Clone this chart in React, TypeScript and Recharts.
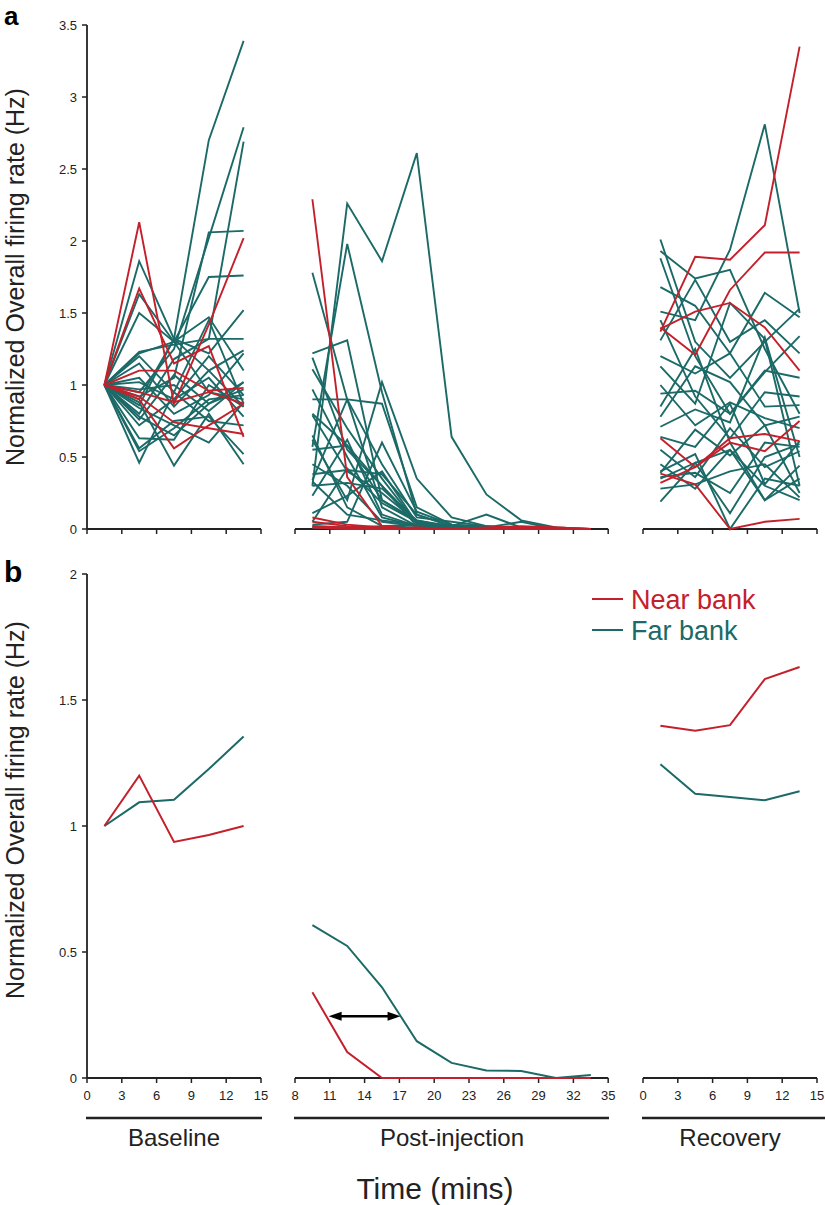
import React from 'react';
import { LineChart, Line, XAxis, YAxis, ReferenceLine } from 'recharts';

const RED = '#c4202c';
const TEAL = '#1b6a67';
const INK = '#222222';
const FONT = "'Liberation Sans', Arial, Helvetica, sans-serif";

// ---------- time points (mins) ----------
const baselineTimes = [1.5, 4.5, 7.5, 10.5, 13.5];
const postTimes = [9.5, 12.5, 15.5, 18.5, 21.5, 24.5, 27.5, 30.5, 33.5];
const recoveryTimes = [1.5, 4.5, 7.5, 10.5, 13.5];

// ---------- axis ticks ----------
const baselineTicks = [0, 3, 6, 9, 12, 15];
const postTicks = [8, 11, 14, 17, 20, 23, 26, 29, 32, 35];
const recoveryTicks = [0, 3, 6, 9, 12, 15];
const yTicksA = [0, 0.5, 1, 1.5, 2, 2.5, 3, 3.5];
const yTicksB = [0, 0.5, 1, 1.5, 2];

// ---------- panel a: individual units ----------
const baselineNear = [
  [1, 2.13, 0.87, 1.42, 2.02],
  [1, 1.67, 1.15, 1.27, 0.64],
  [1, 1.1, 1.1, 0.96, 0.98],
  [1, 0.95, 0.88, 0.95, 0.87],
  [1, 0.92, 0.74, 0.7, 0.66],
  [1, 0.9, 0.56, 0.72, 0.87],
];
const baselineFar = [
  [1, 0.86, 1.32, 2.7, 3.39],
  [1, 0.95, 1.25, 2.02, 2.79],
  [1, 0.8, 1.18, 1.32, 2.69],
  [1, 0.92, 1.05, 2.06, 2.07],
  [1, 1.22, 1.3, 1.75, 1.76],
  [1, 1.86, 1.32, 1.22, 1.52],
  [1, 1.63, 1.3, 1.47, 1.1],
  [1, 1.5, 1.3, 0.95, 0.9],
  [1, 1.23, 1.28, 1.32, 1.32],
  [1, 1.2, 0.95, 1.45, 0.87],
  [1, 1.15, 0.85, 1.1, 1.24],
  [1, 1.05, 0.8, 0.93, 1.22],
  [1, 0.97, 1.0, 0.82, 1.02],
  [1, 0.76, 1.07, 0.87, 0.97],
  [1, 0.72, 0.9, 1.05, 0.78],
  [1, 0.63, 0.62, 1.0, 0.85],
  [1, 0.56, 0.75, 0.78, 0.52],
  [1, 0.54, 0.7, 0.9, 0.93],
  [1, 0.46, 0.95, 0.75, 0.72],
  [1, 0.88, 0.44, 0.8, 0.45],
  [1, 0.78, 0.65, 0.87, 1.02],
  [1, 0.9, 1.32, 1.1, 0.85],
  [1, 1.02, 0.9, 1.2, 0.93],
  [1, 0.84, 0.72, 0.6, 0.88],
];
const postNear = [
  [2.29, 0.36, 0.02, 0, 0, 0, 0, 0.01, 0],
  [0.08, 0.03, 0.01, 0, 0, 0, 0, 0, 0],
  [0.05, 0.02, 0, 0.01, 0, 0.01, 0.02, 0.01, 0],
  [0.02, 0.01, 0, 0, 0, 0, 0, 0, 0],
  [0.01, 0, 0, 0, 0, 0, 0.01, 0, 0],
];
const postFar = [
  [0.3, 2.26, 1.86, 2.61, 0.64, 0.24, 0.06, 0.01, 0],
  [0.57, 1.98, 0.95, 0.1, 0.02, 0, 0, 0, 0],
  [1.78, 0.9, 0.15, 0.02, 0, 0, 0, 0, 0],
  [1.22, 1.31, 0.2, 0.05, 0.01, 0, 0, 0, 0],
  [1.19, 0.55, 0.3, 0.02, 0, 0, 0, 0, 0],
  [0.97, 0.5, 0.08, 0.02, 0, 0, 0, 0, 0],
  [0.9, 0.9, 0.87, 0.15, 0.03, 0.02, 0, 0, 0],
  [0.79, 0.4, 0.25, 0.05, 0.01, 0, 0, 0, 0],
  [0.62, 0.2, 1.02, 0.35, 0.08, 0.02, 0, 0, 0],
  [0.55, 0.58, 0.3, 0.05, 0.02, 0.1, 0.01, 0, 0],
  [0.38, 0.41, 0.38, 0.1, 0.02, 0, 0, 0, 0],
  [0.34, 0.9, 0.45, 0.08, 0.05, 0.02, 0, 0, 0],
  [0.3, 0.32, 0.28, 0.06, 0.02, 0, 0, 0, 0],
  [0.23, 0.62, 0.1, 0.02, 0.01, 0, 0, 0, 0],
  [0.11, 0.23, 0.4, 0.04, 0.02, 0.01, 0.05, 0, 0],
  [0.45, 0.3, 0.05, 0.02, 0, 0, 0, 0, 0],
  [0.65, 0.15, 0.02, 0.01, 0, 0, 0, 0, 0],
  [0.05, 0.42, 0.18, 0.05, 0.02, 0, 0, 0, 0],
  [0.03, 0.05, 0.6, 0.12, 0.03, 0.01, 0, 0, 0],
  [0.02, 0.01, 0.02, 0.03, 0.02, 0.01, 0, 0, 0],
  [0.8, 0.58, 0.2, 0.06, 0.01, 0, 0, 0, 0],
  [0.33, 0.1, 0.06, 0.03, 0.01, 0, 0, 0, 0],
  [1.11, 0.7, 0.35, 0.04, 0.01, 0, 0, 0, 0],
  [0.01, 0, 0.01, 0, 0, 0, 0, 0, 0],
];
const recoveryNear = [
  [1.37, 1.89, 1.87, 2.11, 3.35],
  [1.4, 1.21, 1.66, 1.92, 1.92],
  [1.39, 1.51, 1.57, 1.4, 1.1],
  [0.63, 0.43, 0.63, 0.66, 0.61],
  [0.32, 0.43, 0.6, 0.54, 0.75],
  [0.385, 0.31, 0, 0.05, 0.07],
];
const recoveryFar = [
  [2.01, 1.3, 1.05, 1.3, 1.53],
  [1.93, 1.74, 1.8, 1.25, 0.8],
  [1.88, 1.2, 0.8, 1.1, 1.05],
  [1.68, 1.55, 1.22, 1.64, 1.47],
  [1.51, 1.45, 1.94, 2.81, 1.5],
  [1.31, 1.73, 1.3, 1.45, 1.22],
  [1.2, 1.08, 1.22, 0.85, 0.86],
  [1.13, 0.87, 1.57, 1.32, 0.3],
  [0.94, 0.96, 0.8, 1.09, 1.34],
  [0.78, 1.13, 1.02, 0.72, 0.78],
  [0.71, 0.83, 0.74, 1.33, 0.5],
  [0.64, 0.57, 0.87, 0.31, 0.61],
  [0.39, 0.69, 0.51, 0.72, 0.25],
  [0.36, 0.39, 0.25, 0.6, 0.57],
  [0.35, 0.46, 0.55, 0.2, 0.35],
  [0.28, 0.31, 0.4, 0.45, 0.22],
  [0.19, 0.46, 0.11, 0.5, 0.59],
  [0.45, 0.28, 0.55, 0.3, 0.2],
  [1.0, 0.72, 0.88, 0.77, 0.7],
  [0.85, 1.25, 0.6, 0.2, 0.44],
  [0.55, 0.36, 0.7, 0.43, 0.54],
  [1.45, 0.92, 0.63, 0.95, 0.92],
  [0.4, 0.52, 0, 0.35, 0.3],
];

// ---------- panel b: means ----------
const baselineNearMean = [1.0, 1.2, 0.937, 0.964, 1.0];
const baselineFarMean = [1.0, 1.094, 1.104, 1.226, 1.355];
const postNearMean = [0.34, 0.103, 0, 0, 0, 0, 0, 0, 0];
const postFarMean = [0.607, 0.524, 0.36, 0.146, 0.06, 0.03, 0.028, 0, 0.012];
const recoveryNearMean = [1.398, 1.378, 1.4, 1.583, 1.631];
const recoveryFarMean = [1.245, 1.128, 1.115, 1.102, 1.138];

// onset-delay arrow (panel b, post-injection)
const arrowSpan = [10.9, 17.1];
const arrowLevel = 0.245;

const groupLabels = ['Baseline', 'Post-injection', 'Recovery'];
const legendLabels = ['Near bank', 'Far bank'];

function buildRows(times: number[], near: number[][], far: number[][]) {
  return times.map((t, i) => {
    const row: Record<string, number> = { t };
    near.forEach((s, k) => {
      row['n' + k] = s[i];
    });
    far.forEach((s, k) => {
      row['f' + k] = s[i];
    });
    return row;
  });
}

const ArrowShape = (props: any) => {
  const { x1, y1, x2, y2 } = props;
  if (x1 == null) return <g />;
  const h = 13;
  const w = 4.5;
  return (
    <g>
      <line x1={x1 + h - 2} y1={y1} x2={x2 - h + 2} y2={y2} stroke="#000" strokeWidth={2.4} />
      <polygon points={`${x1},${y1} ${x1 + h},${y1 - w} ${x1 + h},${y1 + w}`} fill="#000" />
      <polygon points={`${x2},${y2} ${x2 - h},${y2 - w} ${x2 - h},${y2 + w}`} fill="#000" />
    </g>
  );
};

type SubProps = {
  plotLeft: number;
  plotTop: number;
  plotW: number;
  plotH: number;
  data: Record<string, number>[];
  nearCount: number;
  farCount: number;
  xDomain: [number, number];
  xTicks: number[];
  yDomain: [number, number];
  yTicks: number[];
  showY: boolean;
  showXLabels: boolean;
  strokeW: number;
  arrow?: boolean;
};

function SubChart(p: SubProps) {
  const yW = 60;
  const padL = p.showY ? yW : 4;
  const padR = 8;
  const padT = 8;
  const xH = p.showXLabels ? 30 : 10;
  const width = padL + p.plotW + padR;
  const height = padT + p.plotH + xH;
  const lines: React.ReactNode[] = [];
  const extra: any = { zIndex: 600 };
  for (let k = 0; k < p.farCount; k++) {
    lines.push(
      <Line key={'f' + k} type="linear" dataKey={'f' + k} stroke={TEAL} strokeWidth={p.strokeW}
        dot={false} activeDot={false} isAnimationActive={false} {...extra} />
    );
  }
  for (let k = 0; k < p.nearCount; k++) {
    lines.push(
      <Line key={'n' + k} type="linear" dataKey={'n' + k} stroke={RED} strokeWidth={p.strokeW}
        dot={false} activeDot={false} isAnimationActive={false} {...extra} />
    );
  }
  return (
    <div style={{ position: 'absolute', left: p.plotLeft - padL, top: p.plotTop - padT }}>
      <LineChart width={width} height={height} data={p.data}
        margin={{ top: padT, right: padR, bottom: 0, left: p.showY ? 0 : padL }}>
        <XAxis dataKey="t" type="number" domain={p.xDomain} ticks={p.xTicks} interval={0}
          height={xH} tickSize={5} tickMargin={8}
          axisLine={{ stroke: INK, strokeWidth: 1.8 }}
          tickLine={{ stroke: INK, strokeWidth: 1.5 }}
          tick={{ fontSize: 13, fill: INK, fontFamily: FONT }}
          tickFormatter={p.showXLabels ? (v: number) => String(v) : () => ''} />
        <YAxis type="number" domain={p.yDomain} ticks={p.yTicks} interval={0}
          hide={!p.showY} width={p.showY ? yW : 0} tickSize={5} tickMargin={5}
          axisLine={{ stroke: INK, strokeWidth: 1.8 }}
          tickLine={{ stroke: INK, strokeWidth: 1.5 }}
          tick={{ fontSize: 13, fill: INK, fontFamily: FONT }} />
        {lines}
        {p.arrow ? (
          <ReferenceLine
            segment={[{ x: arrowSpan[0], y: arrowLevel }, { x: arrowSpan[1], y: arrowLevel }]}
            stroke="#000" ifOverflow="visible" shape={ArrowShape} />
        ) : null}
      </LineChart>
    </div>
  );
}

// layout
const X0 = 87;
const PX_PER_MIN = 174 / 15;
const POST_LEFT = 295;
const REC_LEFT = 643;
const A_TOP = 25;
const B_TOP = 574;
const PLOT_H = 504;

export default function App() {
  const wBase = 15 * PX_PER_MIN;
  const wPost = 27 * PX_PER_MIN;
  const rowsA = [
    buildRows(baselineTimes, baselineNear, baselineFar),
    buildRows(postTimes, postNear, postFar),
    buildRows(recoveryTimes, recoveryNear, recoveryFar),
  ];
  const rowsB = [
    buildRows(baselineTimes, [baselineNearMean], [baselineFarMean]),
    buildRows(postTimes, [postNearMean], [postFarMean]),
    buildRows(recoveryTimes, [recoveryNearMean], [recoveryFarMean]),
  ];
  const groups = [
    { left: X0, w: wBase, dom: [0, 15] as [number, number], ticks: baselineTicks, i: 0 },
    { left: POST_LEFT, w: wPost, dom: [8, 35] as [number, number], ticks: postTicks, i: 1 },
    { left: REC_LEFT, w: wBase, dom: [0, 15] as [number, number], ticks: recoveryTicks, i: 2 },
  ];
  const counts = [
    [baselineNear.length, baselineFar.length],
    [postNear.length, postFar.length],
    [recoveryNear.length, recoveryFar.length],
  ];
  const title = 'Normalized Overall firing rate (Hz)';
  return (
    <div style={{ position: 'absolute', left: 0, top: 0, width: 825, height: 1205, background: '#fff', fontFamily: FONT }}>
      {groups.map((g) => (
        <SubChart key={'a' + g.i} plotLeft={g.left} plotTop={A_TOP} plotW={g.w} plotH={PLOT_H}
          data={rowsA[g.i]} nearCount={counts[g.i][0]} farCount={counts[g.i][1]}
          xDomain={g.dom} xTicks={g.ticks} yDomain={[0, 3.5]} yTicks={yTicksA}
          showY={g.i === 0} showXLabels={false} strokeW={1.9} />
      ))}
      {groups.map((g) => (
        <SubChart key={'b' + g.i} plotLeft={g.left} plotTop={B_TOP} plotW={g.w} plotH={PLOT_H}
          data={rowsB[g.i]} nearCount={1} farCount={1}
          xDomain={g.dom} xTicks={g.ticks} yDomain={[0, 2]} yTicks={yTicksB}
          showY={g.i === 0} showXLabels={true} strokeW={2} arrow={g.i === 1} />
      ))}
      <svg width={825} height={1205} style={{ position: 'absolute', left: 0, top: 0, pointerEvents: 'none' }}>
        <text x={4} y={25} fontSize={26} fontWeight="bold" fill="#000" fontFamily={FONT}>a</text>
        <text x={4} y={582} fontSize={30} fontWeight="bold" fill="#000" fontFamily={FONT}>b</text>
        <text x={24} y={277} transform="rotate(-90 24 277)" textAnchor="middle" fontSize={25} fill={INK} fontFamily={FONT}>{title}</text>
        <text x={24} y={810} transform="rotate(-90 24 810)" textAnchor="middle" fontSize={25} fill={INK} fontFamily={FONT}>{title}</text>
        <line x1={592} x2={623} y1={599} y2={599} stroke={RED} strokeWidth={2} />
        <text x={631} y={609} fontSize={27} fill={RED} fontFamily={FONT}>{legendLabels[0]}</text>
        <line x1={592} x2={623} y1={630} y2={630} stroke={TEAL} strokeWidth={2} />
        <text x={631} y={640} fontSize={27} fill={TEAL} fontFamily={FONT}>{legendLabels[1]}</text>
        <line x1={86} x2={262} y1={1118} y2={1118} stroke={INK} strokeWidth={2.5} />
        <line x1={294} x2={609} y1={1118} y2={1118} stroke={INK} strokeWidth={2.5} />
        <line x1={642} x2={825} y1={1118} y2={1118} stroke={INK} strokeWidth={2.5} />
        <text x={174} y={1146} textAnchor="middle" fontSize={24} fill={INK} fontFamily={FONT}>{groupLabels[0]}</text>
        <text x={452} y={1146} textAnchor="middle" fontSize={24} fill={INK} fontFamily={FONT}>{groupLabels[1]}</text>
        <text x={730} y={1146} textAnchor="middle" fontSize={24} fill={INK} fontFamily={FONT}>{groupLabels[2]}</text>
        <text x={435} y={1199} textAnchor="middle" fontSize={30} fill={INK} fontFamily={FONT}>Time (mins)</text>
      </svg>
    </div>
  );
}
